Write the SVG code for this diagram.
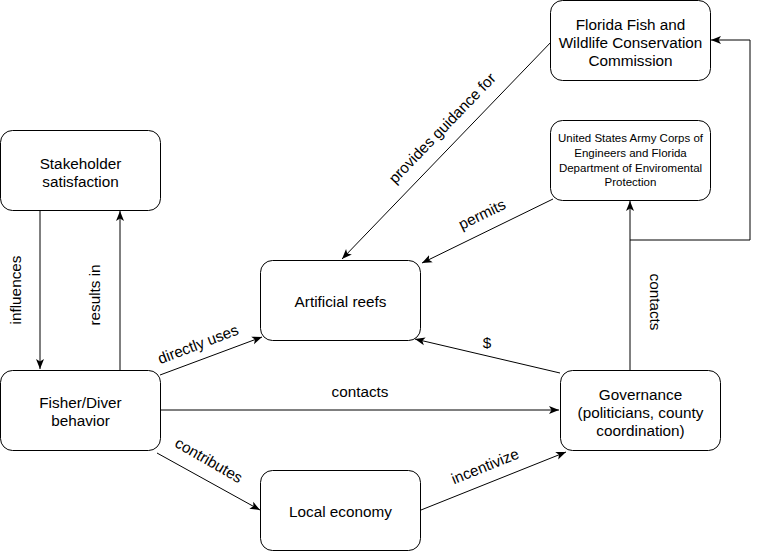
<svg xmlns="http://www.w3.org/2000/svg" width="759" height="551" viewBox="0 0 759 551">
<style>
.n rect{fill:#fff;stroke:#000;stroke-width:1}
text{font-family:"Liberation Sans",Arial,sans-serif;font-size:15.3px;fill:#000;text-anchor:middle;dominant-baseline:central}
.s{font-size:11.5px}
.e{fill:none;stroke:#000;stroke-width:1}
</style>
<defs>
<marker id="a" markerUnits="userSpaceOnUse" markerWidth="12" markerHeight="10" viewBox="0 0 12 10" refX="10" refY="5" orient="auto">
<path d="M0,1 L10,5 L0,9 L2.5,5 z" fill="#000"/>
</marker>
</defs>
<rect width="759" height="551" fill="#fff"/>
<g id="connectors">
<path class="e" d="M40,210 V369" marker-end="url(#a)"/>
<path class="e" d="M120,370 V211" marker-end="url(#a)"/>
<path class="e" d="M160,375 L262,337" marker-end="url(#a)"/>
<path class="e" d="M160,410 H559" marker-end="url(#a)"/>
<path class="e" d="M157,453 L260,510" marker-end="url(#a)"/>
<path class="e" d="M421,510 L566,452" marker-end="url(#a)"/>
<path class="e" d="M560,373 L415,339" marker-end="url(#a)"/>
<path class="e" d="M630,370 V201" marker-end="url(#a)"/>
<path class="e" d="M630,240 H750 V40 H711" marker-end="url(#a)"/>
<path class="e" d="M553,40 L342,259" marker-end="url(#a)"/>
<path class="e" d="M553,199 L422,263" marker-end="url(#a)"/>
</g>
<g id="labels">
<text transform="translate(442,128) rotate(-46)">provides guidance for</text>
<text transform="translate(482,214) rotate(-26)">permits</text>
<text transform="translate(15,290) rotate(-90)">influences</text>
<text transform="translate(94,295) rotate(-90)">results in</text>
<text transform="translate(198,344) rotate(-21)">directly uses</text>
<text x="360" y="391">contacts</text>
<text transform="translate(209,460) rotate(30)">contributes</text>
<text transform="translate(485,466) rotate(-22)">incentivize</text>
<text x="487" y="342">$</text>
<text transform="translate(655,302) rotate(90)">contacts</text>
</g>
<g id="ffwc" class="n"><rect x="550.5" y="0.5" width="160" height="80" rx="12"/>
<text x="630.5" y="24">Florida Fish and</text><text x="630.5" y="42">Wildlife Conservation</text><text x="630.5" y="60">Commission</text></g>
<g id="usace" class="n"><rect x="550.5" y="120.5" width="160" height="80" rx="12"/>
<text class="s" x="630.5" y="138">United States Army Corps of</text><text class="s" x="630.5" y="153">Engineers and Florida</text><text class="s" x="630.5" y="167.5">Department of Enviromental</text><text class="s" x="630.5" y="182">Protection</text></g>
<g id="stakeholder" class="n"><rect x="0.5" y="130.5" width="160" height="80" rx="12"/>
<text x="80.5" y="163">Stakeholder</text><text x="80.5" y="181">satisfaction</text></g>
<g id="reefs" class="n"><rect x="260.5" y="260.5" width="160" height="80" rx="12"/>
<text x="340.5" y="301">Artificial reefs</text></g>
<g id="fisher" class="n"><rect x="0.5" y="370.5" width="160" height="80" rx="12"/>
<text x="80.5" y="402">Fisher/Diver</text><text x="80.5" y="420">behavior</text></g>
<g id="governance" class="n"><rect x="560.5" y="370.5" width="160" height="80" rx="12"/>
<text x="640.5" y="394">Governance</text><text x="640.5" y="412">(politicians, county</text><text x="640.5" y="430">coordination)</text></g>
<g id="economy" class="n"><rect x="260.5" y="470.5" width="160" height="80" rx="12"/>
<text x="340.5" y="511">Local economy</text></g>
</svg>
